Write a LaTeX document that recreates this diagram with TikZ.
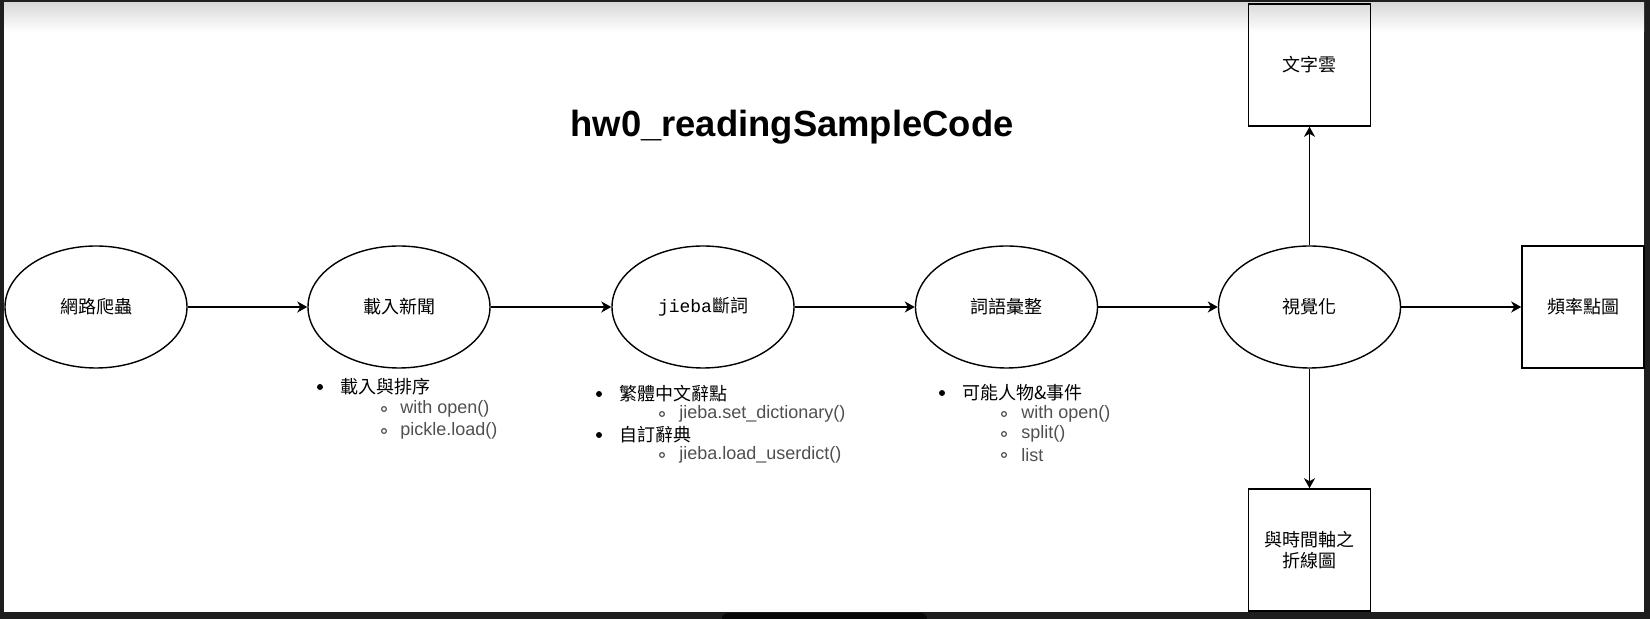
\documentclass[tikz,border=0pt]{standalone}
\usepackage{fontspec}
\setmainfont{Liberation Sans}
\setmonofont{Liberation Mono}
\newfontfamily\cjk{Noto Sans CJK TC}
\usetikzlibrary{shapes.geometric,arrows.meta}
\definecolor{framedark}{HTML}{1E1E1E}
\definecolor{subgray}{HTML}{505050}

\begin{document}
\begin{tikzpicture}[x=0.5pt,y=-0.5pt,
  proc/.style={ellipse, draw, line width=0.7pt, minimum width=91pt, minimum height=61pt, inner sep=0pt, font=\cjk\fontsize{9}{11}\selectfont},
  outbox/.style={rectangle, draw, line width=0.75pt, minimum size=61pt, inner sep=0pt, align=center, font=\cjk\fontsize{9}{10.5}\selectfont},
  arr/.style={-{Stealth[length=5pt,width=5.5pt,inset=1.5pt]}, line width=0.75pt},
  itemtxt/.style={anchor=west, inner sep=0pt, font=\cjk\fontsize{9}{11}\selectfont},
  subtxt/.style={anchor=west, inner sep=0pt, text=subgray, font=\fontsize{9}{11}\selectfont}]
\useasboundingbox (0,0) rectangle (1650,619);
% window frame
\fill[framedark] (0,0) rectangle (1650,619);
\fill[white] (4,3) rectangle (1644,612);
\shade[top color=black!15, bottom color=white] (4,3) rectangle (1644,32);
\fill[black!97, rounded corners=3pt] (722,613) rectangle (927,626);

\node[font=\bfseries\fontsize{18.2}{20}\selectfont] (title) at (792,127) {hw0\_readingSampleCode};

% main chain
\node[proc] (crawl) at (96,307) {網路爬蟲};
\node[proc] (loadnews) at (399,307) {載入新聞};
\node[proc] (jieba) at (703,307) {{\ttfamily jieba}斷詞};
\node[proc] (tidy) at (1006.5,307) {詞語彙整};
\node[proc] (vis) at (1309.5,307) {視覺化};
\node[outbox] (freq) at (1583,307) {頻率點圖};
\node[outbox] (cloud) at (1309.5,65) {文字雲};
\node[outbox] (timeline) at (1309.5,550) {與時間軸之\\折線圖};

\draw[arr] (crawl) -- (loadnews);
\draw[arr] (loadnews) -- (jieba);
\draw[arr] (jieba) -- (tidy);
\draw[arr] (tidy) -- (vis);
\draw[arr] (vis) -- (freq);
\draw[arr] (vis) -- (cloud);
\draw[arr] (vis) -- (timeline);

% notes under the nodes
\fill (320,387) circle (3);
\node[itemtxt] (n1) at (340,387) {載入與排序};
\draw[subgray, line width=0.6pt] (384,409) circle (2.4) (384,431) circle (2.4);
\node[subtxt] (n1a) at (400,409) {with open()};
\node[subtxt] (n1b) at (400,431) {pickle.load()};

\fill (599,394) circle (3) (599,435) circle (3);
\node[itemtxt] (n2) at (619,394) {繁體中文辭點};
\node[itemtxt] (n2b) at (619,435) {自訂辭典};
\draw[subgray, line width=0.6pt] (662,414) circle (2.4) (662,455) circle (2.4);
\node[subtxt] (n2a) at (679,414) {jieba.set\_dictionary()};
\node[subtxt] (n2c) at (679,455) {jieba.load\_userdict()};

\fill (942,393) circle (3);
\node[itemtxt] (n3) at (962,393) {可能人物\&事件};
\draw[subgray, line width=0.6pt] (1004,414) circle (2.4) (1004,434) circle (2.4) (1004,455) circle (2.4);
\node[subtxt] (n3a) at (1021,414) {with open()};
\node[subtxt] (n3b) at (1021,434) {split()};
\node[subtxt] (n3c) at (1021,455) {list};
\end{tikzpicture}
\end{document}
